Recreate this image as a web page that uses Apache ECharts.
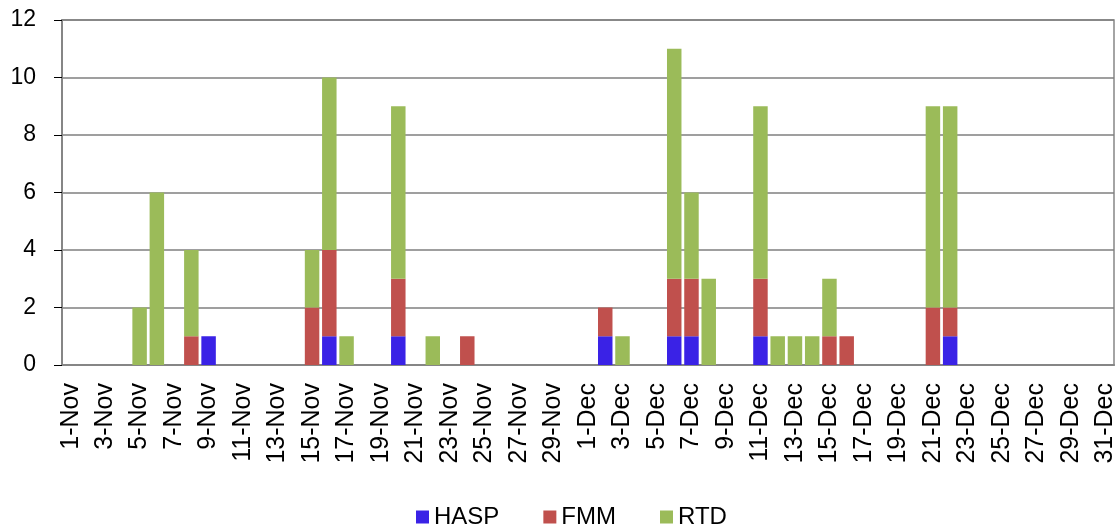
<!DOCTYPE html>
<html>
<head>
<meta charset="utf-8">
<script src="https://cdn.jsdelivr.net/npm/echarts@6/dist/echarts.min.js"></script>
<style>
  html, body { margin: 0; padding: 0; background: #fff; }
  #chart { width: 1119px; height: 527px; }
</style>
</head>
<body>
<div id="chart"></div>
<script>
// x axis categories, one per day
const dateLabels = [
  "1-Nov", "2-Nov", "3-Nov", "4-Nov", "5-Nov", "6-Nov", "7-Nov", "8-Nov", "9-Nov", "10-Nov",
  "11-Nov", "12-Nov", "13-Nov", "14-Nov", "15-Nov", "16-Nov", "17-Nov", "18-Nov", "19-Nov", "20-Nov",
  "21-Nov", "22-Nov", "23-Nov", "24-Nov", "25-Nov", "26-Nov", "27-Nov", "28-Nov", "29-Nov", "30-Nov",
  "1-Dec", "2-Dec", "3-Dec", "4-Dec", "5-Dec", "6-Dec", "7-Dec", "8-Dec", "9-Dec", "10-Dec",
  "11-Dec", "12-Dec", "13-Dec", "14-Dec", "15-Dec", "16-Dec", "17-Dec", "18-Dec", "19-Dec", "20-Dec",
  "21-Dec", "22-Dec", "23-Dec", "24-Dec", "25-Dec", "26-Dec", "27-Dec", "28-Dec", "29-Dec", "30-Dec",
  "31-Dec"
];

// series values (Nov rows first, then Dec rows)
const haspValues = [
  0, 0, 0, 0, 0, 0, 0, 0, 1, 0,
  0, 0, 0, 0, 0, 1, 0, 0, 0, 1,
  0, 0, 0, 0, 0, 0, 0, 0, 0, 0,
  0, 1, 0, 0, 0, 1, 1, 0, 0, 0,
  1, 0, 0, 0, 0, 0, 0, 0, 0, 0,
  0, 1, 0, 0, 0, 0, 0, 0, 0, 0,
  0
];
const fmmValues = [
  0, 0, 0, 0, 0, 0, 0, 1, 0, 0,
  0, 0, 0, 0, 2, 3, 0, 0, 0, 2,
  0, 0, 0, 1, 0, 0, 0, 0, 0, 0,
  0, 1, 0, 0, 0, 2, 2, 0, 0, 0,
  2, 0, 0, 0, 1, 1, 0, 0, 0, 0,
  2, 1, 0, 0, 0, 0, 0, 0, 0, 0,
  0
];
const rtdValues = [
  0, 0, 0, 0, 2, 6, 0, 3, 0, 0,
  0, 0, 0, 0, 2, 6, 1, 0, 0, 6,
  0, 1, 0, 0, 0, 0, 0, 0, 0, 0,
  0, 0, 1, 0, 0, 8, 3, 3, 0, 0,
  6, 1, 1, 1, 2, 0, 0, 0, 0, 0,
  7, 7, 0, 0, 0, 0, 0, 0, 0, 0,
  0
];

const seriesNames = ["HASP", "FMM", "RTD"];
const seriesColors = ["#3A22E6", "#C0504D", "#9BBB59"];
const seriesValues = [haspValues, fmmValues, rtdValues];

const fontFamily = "'Liberation Sans', Arial, sans-serif";

const chart = echarts.init(document.getElementById("chart"));

const option = {
  animation: false,
  backgroundColor: "#fff",
  textStyle: { fontFamily: fontFamily },
  grid: {
    left: 62,
    right: 5,
    top: 20,
    bottom: 162,
    show: true,
    borderColor: "#868686",
    borderWidth: 1.5,
    outerBoundsMode: "none"
  },
  legend: {
    data: seriesNames,
    left: 416,
    top: 505,
    padding: 0,
    icon: "rect",
    itemWidth: 13,
    itemHeight: 13,
    itemGap: 44,
    textStyle: { fontSize: 24, color: "#000", fontFamily: fontFamily }
  },
  xAxis: {
    type: "category",
    data: dateLabels,
    boundaryGap: true,
    axisLine: { lineStyle: { color: "#868686", width: 2 } },
    axisTick: { interval: 0, length: 6, lineStyle: { color: "#000" } },
    axisLabel: {
      interval: 1,
      rotate: 90,
      margin: 18,
      fontSize: 25,
      color: "#000",
      fontFamily: fontFamily
    },
    splitLine: { show: false }
  },
  yAxis: {
    type: "value",
    min: 0,
    max: 12,
    interval: 2,
    axisLine: { show: true, lineStyle: { color: "#868686", width: 2 } },
    axisTick: { show: true, length: 8, lineStyle: { color: "#000" } },
    axisLabel: { fontSize: 23, color: "#000", margin: 26, fontFamily: fontFamily },
    splitLine: { lineStyle: { color: "#7f7f7f", width: 1.5 } }
  },
  series: seriesNames.map((name, i) => ({
    name: name,
    type: "bar",
    stack: "total",
    barCategoryGap: "16%",
    itemStyle: { color: seriesColors[i] },
    data: seriesValues[i]
  }))
};

chart.setOption(option);
</script>
</body>
</html>
